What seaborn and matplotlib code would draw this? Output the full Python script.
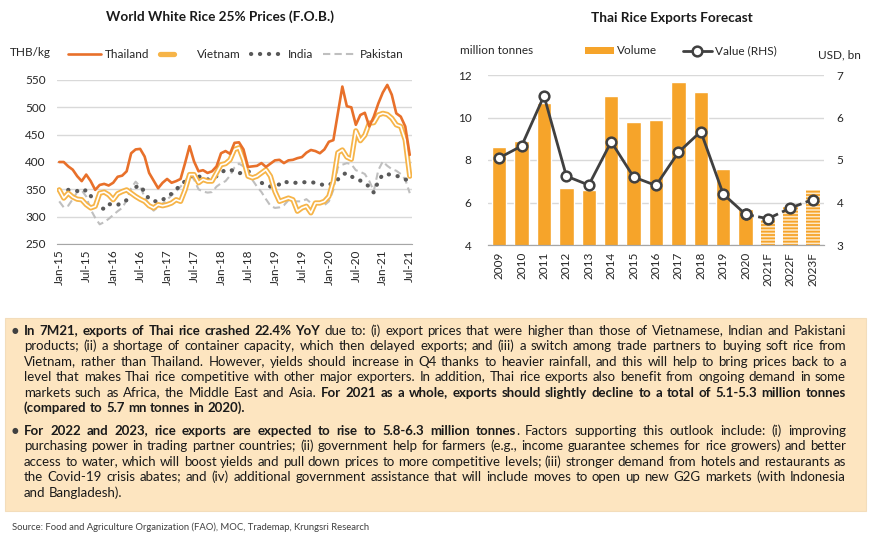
import numpy as np
import pandas as pd
import matplotlib.pyplot as plt
import seaborn as sns
from matplotlib.lines import Line2D
from matplotlib.patches import Patch, Rectangle
from matplotlib.legend_handler import HandlerTuple
from matplotlib.font_manager import FontProperties
from matplotlib.backends.backend_agg import get_hinting_flag

# ---- left chart: world white rice 25% prices, monthly Jan-15 .. Jul-21 ----
thailand = [
    400, 400, 392, 386, 374, 365, 377, 365, 349, 358, 360, 357,
    362, 373, 375, 383, 416, 423, 424, 410, 380, 366, 352, 362,
    369, 362, 365, 369, 398, 429, 401, 383, 385, 380, 383, 392,
    416, 420, 415, 435, 436, 423, 391, 392, 393, 398, 391, 397,
    403, 404, 398, 403, 404, 407, 409, 417, 422, 420, 416, 423,
    437, 440, 489, 538, 502, 500, 468, 486, 490, 465, 483, 507,
    527, 541, 523, 489, 483, 465, 413,
]
vietnam = [
    349, 334, 343, 336, 332, 331, 322, 316, 319, 343, 345, 340,
    331, 342, 346, 349, 343, 337, 332, 328, 320, 316, 322, 320,
    322, 325, 331, 328, 349, 377, 377, 362, 368, 365, 365, 380,
    395, 397, 404, 423, 426, 404, 374, 371, 374, 380, 386, 374,
    346, 328, 331, 334, 331, 310, 316, 319, 307, 325, 325, 328,
    337, 365, 417, 422, 409, 405, 457, 439, 449, 471, 472, 486,
    489, 487, 480, 468, 465, 440, 374,
]
india = [
    349, 349, 349, 348, 347, 344, 349, 338, 327, 317, 314, 323,
    322, 321, 328, 330, 349, 354, 357, 345, 332, 329, 327, 331,
    336, 342, 350, 357, 365, 373, 376, 374, 370, 368, 370, 374,
    380, 386, 386, 383, 379, 382, 383, 380, 370, 362, 358, 355,
    357, 359, 365, 362, 362, 362, 363, 363, 363, 362, 360, 357,
    358, 362, 368, 377, 380, 374, 368, 366, 361, 355, 344, 365,
    377, 378, 376, 375, 372, 368, 367,
]
pakistan = [
    328, 317, 320, 332, 345, 348, 337, 313, 298, 286, 290, 296,
    303, 310, 316, 330, 352, 364, 355, 336, 320, 311, 318, 324,
    331, 339, 346, 355, 365, 378, 368, 350, 346, 344, 345, 355,
    361, 365, 375, 390, 397, 392, 378, 367, 355, 345, 332, 320,
    316, 317, 321, 330, 328, 328, 328, 332, 325, 324, 324, 321,
    328, 349, 390, 395, 398, 396, 385, 382, 378, 365, 347, 385,
    401, 393, 387, 384, 378, 368, 343,
]
months = pd.date_range('2015-01-01', periods=len(thailand), freq='MS')
month_labels = [d.strftime('%b-%y') for d in months]

# ---- right chart: Thai rice exports forecast ----
years = ['2009', '2010', '2011', '2012', '2013', '2014', '2015', '2016',
         '2017', '2018', '2019', '2020', '2021F', '2022F', '2023F']
volume = [8.6, 8.9, 10.7, 6.7, 6.6, 11.0, 9.8, 9.9, 11.65, 11.2, 7.6, 5.7, 5.2, 5.8, 6.6]
value_usd = [5.05, 5.33, 6.51, 4.62, 4.41, 5.43, 4.60, 4.40, 5.18, 5.67, 4.20, 3.72, 3.62, 3.87, 4.07]
n_forecast = 3

para1 = [
    "**In 7M21, exports of Thai rice crashed 22.4% YoY** due to: (i) export prices that were higher than those of Vietnamese, Indian and Pakistani",
    "products; (ii) a shortage of container capacity, which then delayed exports; and (iii) a switch among trade partners to buying soft rice from",
    "Vietnam, rather than Thailand. However, yields should increase in Q4 thanks to heavier rainfall, and this will help to bring prices back to a",
    "level that makes Thai rice competitive with other major exporters. In addition, Thai rice exports also benefit from ongoing demand in some",
    "markets such as Africa, the Middle East and Asia. **For 2021 as a whole, exports should slightly decline to a total of 5.1-5.3 million tonnes**",
    "**(compared to 5.7 mn tonnes in 2020).**",
]
para2 = [
    "**For 2022 and 2023, rice exports are expected to rise to 5.8-6.3 million tonnes**. Factors supporting this outlook include: (i) improving",
    "purchasing power in trading partner countries; (ii) government help for farmers (e.g., income guarantee schemes for rice growers) and better",
    "access to water, which will boost yields and pull down prices to more competitive levels; (iii) stronger demand from hotels and restaurants as",
    "the Covid-19 crisis abates; and (iv) additional government assistance that will include moves to open up new G2G markets (with Indonesia",
    "and Bangladesh).",
]
source = "Source: Food and Agriculture Organization (FAO), MOC, Trademap, Krungsri Research"

sns.set_style('white')
FONT = ['Lato', 'DejaVu Sans']
plt.rcParams['font.family'] = FONT
plt.rcParams['hatch.linewidth'] = 1.3

W, H = 870, 542
TXT = '#262626'
GRID = '#D9D9D9'
ORANGE = '#F6A42A'


def fx(px):
    return px / W


def fy(py):
    return 1 - py / H


fig = plt.figure(figsize=(W / 100, H / 100), dpi=100)

# ================= left chart =================
ax1 = fig.add_axes([fx(57), fy(244), fx(412) - fx(57), fy(80) - fy(244)])
idx = np.arange(len(thailand))
sns.lineplot(x=idx, y=pakistan, ax=ax1, color='#BFBFBF', lw=1.5)
ax1.lines[-1].set_linestyle((0, (3.5, 2)))
sns.lineplot(x=idx, y=india, ax=ax1, color='#595959', lw=3.0)
ax1.lines[-1].set_linestyle((0, (0.05, 2.1)))
ax1.lines[-1].set_dash_capstyle('round')
sns.lineplot(x=idx, y=vietnam, ax=ax1, color='#F6B448', lw=3.8)
sns.lineplot(x=idx, y=vietnam, ax=ax1, color='white', lw=1.2)
sns.lineplot(x=idx, y=thailand, ax=ax1, color='#E8702A', lw=1.9)

ax1.set_xlim(-0.5, len(thailand) - 0.5)
ax1.set_ylim(250, 550)
ax1.set_yticks(range(250, 551, 50))
ax1.set_xticks(idx[::6])
ax1.set_xticklabels(month_labels[::6], rotation=90)
ax1.grid(axis='y', color=GRID, lw=1)
ax1.set_axisbelow(True)
for s in ['top', 'right', 'left']:
    ax1.spines[s].set_visible(False)
ax1.spines['bottom'].set_color('#A6A6A6')
ax1.tick_params(axis='y', length=0, labelsize=8.5, colors=TXT, pad=8)
ax1.tick_params(axis='x', length=0, labelsize=8.5, colors=TXT, pad=4)
ax1.set_xlabel('')
ax1.set_ylabel('')

fig.text(fx(220), fy(17), 'World White Rice 25% Prices (F.O.B.)', ha='center', va='center',
         fontsize=9.8, fontweight='bold', color='#1a1a1a')
fig.text(fx(10), fy(53), 'THB/kg', ha='left', va='center', fontsize=8.5, color=TXT)

h_th = Line2D([], [], color='#E8702A', lw=1.9)
h_vn = (Line2D([], [], color='#F6B448', lw=3.8), Line2D([], [], color='white', lw=1.2))
h_in = Line2D([], [], color='#595959', lw=3.0, ls=(0, (0.05, 2.1)), dash_capstyle='round')
h_pk = Line2D([], [], color='#BFBFBF', lw=1.5, ls=(0, (3.5, 2)))
fig.legend([h_th, h_vn, h_in, h_pk], ['Thailand', 'Vietnam', 'India', 'Pakistan'],
           handler_map={tuple: HandlerTuple(ndivide=None)}, ncol=4, frameon=False,
           loc='center', bbox_to_anchor=(fx(236), fy(55)), fontsize=8.5,
           handlelength=2.8, handletextpad=0.3, columnspacing=0.9, labelcolor=TXT)

# ================= right chart =================
ax2 = fig.add_axes([fx(488), fy(245), fx(824) - fx(488), fy(75) - fy(245)])
sns.barplot(x=years, y=volume, ax=ax2, color=ORANGE, saturation=1, width=0.64)
for p in ax2.patches[-n_forecast:]:
    p.set_facecolor('#FDE8C8')
    p.set_edgecolor(ORANGE)
    p.set_linewidth(0)
    p.set_hatch('-----')
ax2.set_ylim(4, 12)
ax2.set_yticks(range(4, 13, 2))
ax2.set_xlim(-0.5, len(years) - 0.5)
ax2.grid(axis='y', color=GRID, lw=1)
ax2.set_axisbelow(True)
ax2.tick_params(axis='x', rotation=90, length=0, labelsize=8.5, colors=TXT, pad=5)
ax2.tick_params(axis='y', length=0, labelsize=8.5, colors=TXT, pad=12)
ax2.set_xlabel('')
ax2.set_ylabel('')

ax3 = ax2.twinx()
pos = np.arange(len(years))
n_act = len(years) - n_forecast
line_kw = dict(color='#404040', lw=2, marker='o', markersize=7, markerfacecolor='white',
               markeredgecolor='#404040', markeredgewidth=1.8)
sns.lineplot(x=pos[n_act - 1:], y=value_usd[n_act - 1:], ax=ax3, **line_kw)
ax3.lines[-1].set_linestyle((0, (3, 1.6)))
sns.lineplot(x=pos[:n_act], y=value_usd[:n_act], ax=ax3, **line_kw)
ax3.set_ylim(3, 7)
ax3.set_yticks(range(3, 8))
ax3.set_ylabel('')
ax3.tick_params(axis='y', length=0, labelsize=8.5, colors=TXT, pad=9)
for a in (ax2, ax3):
    for s in ['top', 'right', 'left']:
        a.spines[s].set_visible(False)
    a.spines['bottom'].set_color('#A6A6A6')

fig.text(fx(672), fy(18), 'Thai Rice Exports Forecast', ha='center', va='center',
         fontsize=9.8, fontweight='bold', color='#1a1a1a')
fig.text(fx(460), fy(50), 'million tonnes', ha='left', va='center', fontsize=8.5, color=TXT)
fig.text(fx(861), fy(55), 'USD, bn', ha='right', va='center', fontsize=8.5, color=TXT)

h_vol = Patch(facecolor=ORANGE, edgecolor='none')
h_val = Line2D([], [], **line_kw)
fig.legend([h_vol, h_val], ['Volume', 'Value (RHS)'], ncol=2, frameon=False,
           loc='center', bbox_to_anchor=(fx(681), fy(51)), fontsize=8.5,
           handlelength=2.4, handleheight=0.5, handletextpad=0.3, columnspacing=2.2,
           labelcolor=TXT)

# ================= text box =================
fig.add_artist(Rectangle((fx(5), fy(511)), fx(866) - fx(5), fy(318) - fy(511),
                         transform=fig.transFigure, facecolor='#FDE5C0',
                         edgecolor='#F3DDBB', lw=0.8, zorder=0))

renderer = fig.canvas.get_renderer()


def font_props(bold, size):
    return FontProperties(family=FONT, weight='bold' if bold else 'normal', size=size)


def text_width(s, bold, size):
    w, _, _ = renderer.get_text_width_height_descent(s, font_props(bold, size), ismath=False)
    return w


def baseline_shift(s, bold, size):
    # agg snaps every text bitmap to whole pixels, so words with different
    # descents land on different rows; work out the offset that lines them up
    try:
        font = renderer._prepare_font(font_props(bold, size))
        font.set_text(s, 0, flags=get_hinting_flag())
        d = font.get_descent()
        h = font.get_width_height()[1]
        return h // 64 - (h - d) // 64 - d / 64
    except Exception:
        return 0.0


def parse(lines):
    bold = False
    out = []
    for line in lines:
        words = []
        for raw in line.split(' '):
            pieces = []
            for j, part in enumerate(raw.split('**')):
                if j > 0:
                    bold = not bold
                if part:
                    pieces.append((part, bold))
            words.append(pieces)
        out.append(words)
    return out


paras = [parse(para1), parse(para2)]
x_left, x_right = 24, 846

# pick a font size so the widest justified line still fits
base = 10
space_base = text_width('a b', False, base) - text_width('ab', False, base)
k = 1.0
for pr in paras:
    for words in pr[:-1]:
        tot = sum(text_width(t, b, base) for w in words for t, b in w)
        need = tot + 0.55 * space_base * (len(words) - 1)
        k = min(k, (x_right - x_left) / need)
size = min(base * k, 9.5)
space_w = text_width('a b', False, size) - text_width('ab', False, size)

for pr, y0 in zip(paras, [331, 431]):
    fig.text(fx(12), fy(y0), '\u25cf', fontsize=5.5, color='#404040', ha='left',
             va='center', family='DejaVu Sans')
    for li, words in enumerate(pr):
        widths = [[text_width(t, b, size) for t, b in w] for w in words]
        total = sum(sum(ws) for ws in widths)
        if li < len(pr) - 1:
            gap = (x_right - x_left - total) / (len(words) - 1)
        else:
            gap = space_w
        x = x_left
        y = round(y0 + li * 15.5 + 3.8)
        for w, ws in zip(words, widths):
            for (t, b), tw in zip(w, ws):
                yw = y + baseline_shift(t, b, size)
                fig.text(fx(x), fy(yw), t, fontsize=size, fontweight='bold' if b else 'normal',
                         ha='left', va='baseline', color='#1a1a1a')
                x += tw
            x += gap

fig.text(fx(12), fy(527), source, fontsize=6.8, color='#404040', ha='left', va='center')

fig.savefig('out.png', dpi=100)
